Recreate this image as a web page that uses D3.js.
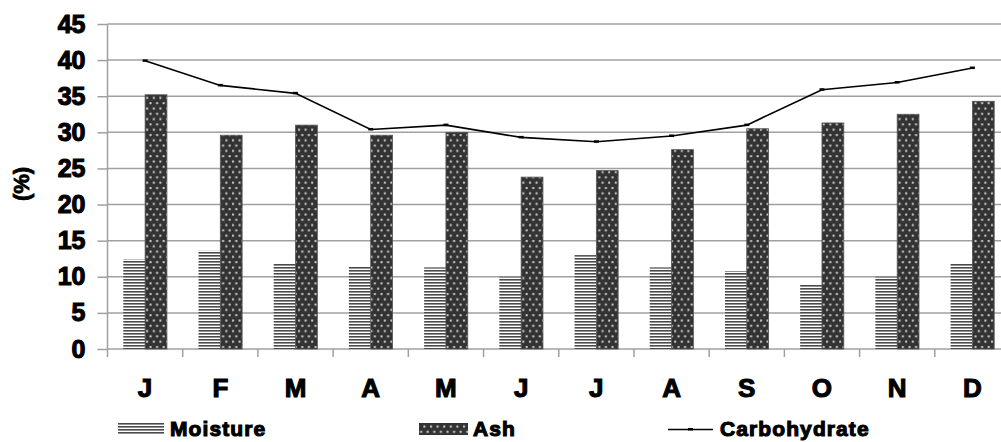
<!DOCTYPE html>
<html>
<head>
<meta charset="utf-8">
<script src="https://cdn.jsdelivr.net/npm/d3@7/dist/d3.min.js"></script>
<style>
  html, body { margin: 0; padding: 0; background: #fff; }
  svg { display: block; }
  text { font-family: "Liberation Sans", Arial, sans-serif; font-weight: bold; fill: #000; }
</style>
</head>
<body>
<svg id="chart" width="1001" height="442"></svg>
<script>
// Monthly composition (%)
const months = ["J", "F", "M", "A", "M", "J", "J", "A", "S", "O", "N", "D"];
const moisture = [12.4, 13.6, 11.9, 11.4, 11.3, 10.0, 13.0, 11.3, 10.8, 8.9, 10.0, 11.9];
const ash = [35.2, 29.6, 31.0, 29.6, 30.0, 23.8, 24.7, 27.6, 30.5, 31.3, 32.5, 34.3];
const carbohydrate = [39.9, 36.5, 35.4, 30.4, 31.0, 29.3, 28.7, 29.5, 31.0, 35.9, 36.9, 38.9];
const yTicks = [0, 5, 10, 15, 20, 25, 30, 35, 40, 45];
const seriesNames = ["Moisture", "Ash", "Carbohydrate"];

const svg = d3.select("#chart");
const plotLeft = 107.5, plotRight = 1010, plotTop = 24, plotBottom = 349;

const idx = months.map((m, i) => i);
const x = d3.scaleBand().domain(idx).range([plotLeft, plotRight]).padding(0);
const y = d3.scaleLinear().domain([0, 45]).range([plotBottom, plotTop]);
const barW = x.bandwidth() * 0.29;

// fill patterns
const defs = svg.append("defs");
const stripes = defs.append("pattern").attr("id", "stripes")
  .attr("patternUnits", "userSpaceOnUse").attr("width", 6).attr("height", 3);
stripes.append("rect").attr("width", 6).attr("height", 3).attr("fill", "#fff");
stripes.append("rect").attr("y", 0).attr("width", 6).attr("height", 1.6).attr("fill", "#4a4a4a");

const dots = defs.append("pattern").attr("id", "dots")
  .attr("patternUnits", "userSpaceOnUse").attr("width", 6.6).attr("height", 10.6);
dots.append("rect").attr("width", 6.6).attr("height", 10.6).attr("fill", "#333");
dots.append("rect").attr("x", 1).attr("y", 1.5).attr("width", 2).attr("height", 2).attr("fill", "#d0d0d0");
dots.append("rect").attr("x", 4.3).attr("y", 6.8).attr("width", 2).attr("height", 2).attr("fill", "#d0d0d0");

// gridlines
svg.append("g").selectAll("line").data(yTicks.filter(t => t > 0)).join("line")
  .attr("x1", plotLeft).attr("x2", 1001)
  .attr("y1", d => y(d)).attr("y2", d => y(d))
  .attr("stroke", "#a0a0a0").attr("stroke-width", 1.5);

// y axis
const yAxis = d3.axisLeft(y).tickValues(yTicks).tickSize(10).tickPadding(12);
const gy = svg.append("g").attr("transform", `translate(${plotLeft},0)`).call(yAxis);
gy.select(".domain").remove();
gy.selectAll(".tick line").attr("stroke", "#a0a0a0").attr("stroke-width", 1.5);
gy.selectAll(".tick text").attr("font-size", 25).attr("font-family", "Liberation Sans, Arial, sans-serif")
  .attr("font-weight", "bold").attr("fill", "#000").attr("stroke", "#000").attr("stroke-width", 1.1);
svg.append("line").attr("x1", plotLeft).attr("x2", plotLeft).attr("y1", plotTop).attr("y2", plotBottom + 8)
  .attr("stroke", "#a0a0a0").attr("stroke-width", 1.5);

// x axis
const xAxis = d3.axisBottom(x).tickFormat(i => months[i]).tickSize(0).tickPadding(30);
const gx = svg.append("g").attr("transform", `translate(0,${plotBottom})`).call(xAxis);
gx.select(".domain").remove();
gx.selectAll(".tick text").attr("font-size", 26).attr("font-family", "Liberation Sans, Arial, sans-serif")
  .attr("font-weight", "bold").attr("fill", "#000").attr("stroke", "#000").attr("stroke-width", 1.1);
svg.append("line").attr("x1", plotLeft).attr("x2", 1001).attr("y1", plotBottom).attr("y2", plotBottom)
  .attr("stroke", "#a0a0a0").attr("stroke-width", 1.5);
svg.append("g").selectAll("line").data(idx.slice(1)).join("line")
  .attr("x1", d => x(d)).attr("x2", d => x(d))
  .attr("y1", plotBottom).attr("y2", plotBottom + 8)
  .attr("stroke", "#a0a0a0").attr("stroke-width", 1.5);

// bars
const cx = i => x(i) + x.bandwidth() / 2;
svg.append("g").selectAll("rect").data(moisture).join("rect")
  .attr("x", (d, i) => cx(i) - barW).attr("width", barW)
  .attr("y", d => y(d)).attr("height", d => y(0) - y(d))
  .attr("fill", "url(#stripes)");
svg.append("g").selectAll("rect").data(ash).join("rect")
  .attr("x", (d, i) => cx(i)).attr("width", barW)
  .attr("y", d => y(d)).attr("height", d => y(0) - y(d))
  .attr("fill", "url(#dots)").attr("stroke", "#555").attr("stroke-width", 0.8);

// carbohydrate line
const line = d3.line().x((d, i) => cx(i)).y(d => y(d));
svg.append("path").datum(carbohydrate).attr("d", line)
  .attr("fill", "none").attr("stroke", "#000").attr("stroke-width", 1.6);
svg.append("g").selectAll("rect").data(carbohydrate).join("rect")
  .attr("x", (d, i) => cx(i) - 2.5).attr("y", d => y(d) - 1.5)
  .attr("width", 5).attr("height", 2.5).attr("fill", "#000");

// y axis title
svg.append("text").attr("transform", "translate(29,184) rotate(-90)")
  .attr("text-anchor", "middle").attr("font-size", 22)
  .attr("stroke", "#000").attr("stroke-width", 0.8).text("(%)");

// legend
const lg = svg.append("g");
const legendText = (xPos, label) => lg.append("text").attr("x", xPos).attr("y", 436)
  .attr("font-size", 21).attr("letter-spacing", 1.1)
  .attr("stroke", "#000").attr("stroke-width", 1.1).text(label);
lg.append("rect").attr("x", 118).attr("y", 423).attr("width", 46).attr("height", 12).attr("fill", "url(#stripes)");
legendText(170, seriesNames[0]);
lg.append("rect").attr("x", 419).attr("y", 423).attr("width", 49).attr("height", 12).attr("fill", "url(#dots)");
legendText(473, seriesNames[1]);
lg.append("line").attr("x1", 668).attr("x2", 713).attr("y1", 429.5).attr("y2", 429.5)
  .attr("stroke", "#000").attr("stroke-width", 1.6);
lg.append("rect").attr("x", 688).attr("y", 428).attr("width", 5).attr("height", 2.5).attr("fill", "#000");
legendText(720, seriesNames[2]);
</script>
</body>
</html>
